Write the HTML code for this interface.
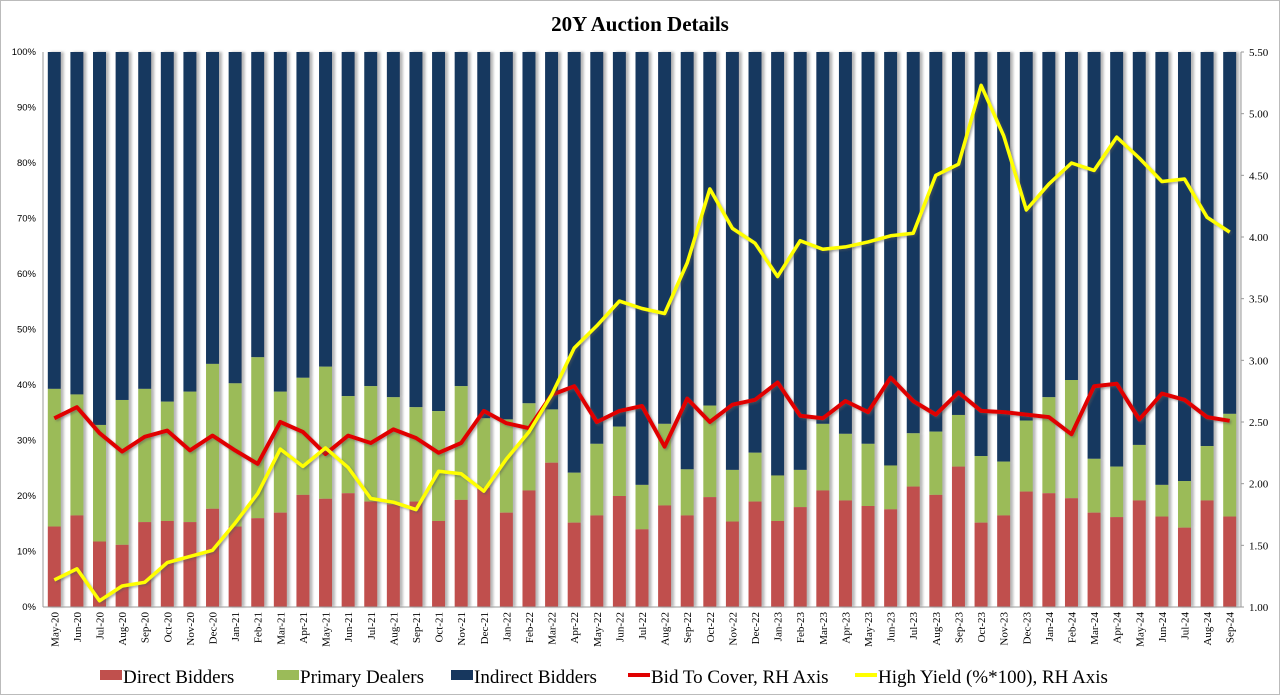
<!DOCTYPE html>
<html><head><meta charset="utf-8"><style>
html,body{margin:0;padding:0;background:#fff;}
svg{display:block;font-family:"Liberation Serif",serif;}
</style></head><body>
<svg id="chart" width="1280" height="695" viewBox="0 0 1280 695">
<defs>
<filter id="sh" x="-20%" y="-5%" width="160%" height="110%"><feDropShadow dx="3" dy="0" stdDeviation="1.2" flood-color="#888" flood-opacity="0.6"/></filter>
<filter id="lsh" x="-5%" y="-5%" width="110%" height="110%"><feDropShadow dx="1.5" dy="1.5" stdDeviation="1" flood-color="#555" flood-opacity="0.5"/></filter>
</defs>
<rect x="0.5" y="0.5" width="1279" height="694" fill="#fff" stroke="#bbb"/>
<text x="640" y="31" text-anchor="middle" font-size="21" font-weight="bold">20Y Auction  Details</text>
<g id="bars"></g>
<g id="axes"></g>
<g id="lines"></g>
<g id="legend">
<rect x="100" y="670" width="22" height="10" fill="#c0504d"/>
<text x="123" y="683" font-size="19">Direct Bidders</text>
<rect x="277" y="670" width="22" height="10" fill="#9bbb59"/>
<text x="300" y="683" font-size="19">Primary Dealers</text>
<rect x="451" y="670" width="22" height="10" fill="#17375e"/>
<text x="474" y="683" font-size="19">Indirect Bidders</text>
<line x1="628" y1="675" x2="650" y2="675" stroke="#e00000" stroke-width="4"/>
<text x="651" y="683" font-size="19">Bid To Cover, RH Axis</text>
<line x1="855" y1="675" x2="877" y2="675" stroke="#ffff00" stroke-width="4"/>
<text x="878" y="683" font-size="19">High Yield (%*100), RH Axis</text>
</g>
</svg>
<script>
const months=["May-20","Jun-20","Jul-20","Aug-20","Sep-20","Oct-20","Nov-20","Dec-20","Jan-21","Feb-21","Mar-21","Apr-21","May-21","Jun-21","Jul-21","Aug-21","Sep-21","Oct-21","Nov-21","Dec-21","Jan-22","Feb-22","Mar-22","Apr-22","May-22","Jun-22","Jul-22","Aug-22","Sep-22","Oct-22","Nov-22","Dec-22","Jan-23","Feb-23","Mar-23","Apr-23","May-23","Jun-23","Jul-23","Aug-23","Sep-23","Oct-23","Nov-23","Dec-23","Jan-24","Feb-24","Mar-24","Apr-24","May-24","Jun-24","Jul-24","Aug-24","Sep-24"];
const direct=[14.5,16.5,11.8,11.2,15.3,15.5,15.3,17.7,14.5,16,17,20.2,19.5,20.5,19,18.5,19,15.5,19.3,21.5,17,21,26,15.2,16.5,20,14,18.3,16.5,19.8,15.4,19,15.5,18,21,19.2,18.2,17.6,21.7,20.2,25.3,15.2,16.5,20.8,20.5,19.6,17,16.2,19.2,16.3,14.3,19.2,16.3];
const primary=[24.8,21.8,21,26.1,24,21.5,23.5,26.1,25.8,29,21.8,21.1,23.8,17.5,20.8,19.3,17,19.8,20.5,12.5,16.8,15.7,9.6,9,12.9,12.5,8,14.7,8.3,16.5,9.3,8.8,8.2,6.7,12,12,11.2,7.9,9.6,11.4,9.3,12,9.7,12.8,17.3,21.3,9.7,9.1,10,5.7,8.4,9.8,18.5];
const bidToCover=[2.53,2.62,2.41,2.26,2.38,2.43,2.27,2.39,2.27,2.16,2.50,2.42,2.24,2.39,2.33,2.44,2.37,2.25,2.33,2.59,2.49,2.45,2.72,2.79,2.50,2.59,2.63,2.30,2.69,2.50,2.64,2.68,2.82,2.55,2.53,2.67,2.58,2.86,2.67,2.56,2.74,2.59,2.58,2.56,2.54,2.40,2.79,2.81,2.52,2.73,2.68,2.54,2.51];
const highYield=[1.22,1.31,1.05,1.17,1.20,1.36,1.41,1.46,1.68,1.92,2.28,2.14,2.29,2.13,1.88,1.85,1.79,2.10,2.08,1.94,2.20,2.42,2.72,3.10,3.28,3.48,3.42,3.38,3.79,4.39,4.07,3.95,3.68,3.97,3.90,3.92,3.96,4.01,4.03,4.50,4.59,5.23,4.82,4.22,4.43,4.60,4.54,4.81,4.64,4.45,4.47,4.16,4.04];
const leftTicks=[0,10,20,30,40,50,60,70,80,90,100];
const rightTicks=[1.0,1.5,2.0,2.5,3.0,3.5,4.0,4.5,5.0,5.5];

const NS="http://www.w3.org/2000/svg";
const X0=43,X1=1241,Y0=607,Y1=52;
const n=months.length;
const step=(X1-X0)/n;
const xc=i=>X0+step*(i+0.5);
const yL=v=>Y0-(v/100)*(Y0-Y1);
const yR=v=>Y0-((v-1)/4.5)*(Y0-Y1);
const BW=13;
function mk(tag,attrs,parent){const e=document.createElementNS(NS,tag);for(const k in attrs)e.setAttribute(k,attrs[k]);parent.appendChild(e);return e;}
const gb=document.getElementById('bars'),ga=document.getElementById('axes'),gl=document.getElementById('lines');
for(let i=0;i<n;i++){
  const g=mk('g',{filter:'url(#sh)'},gb);
  
  
  const d=direct[i],p=primary[i];
  const r1=mk('rect',{x:xc(i)-BW/2,y:yL(100),width:BW,height:yL(d+p)-yL(100),fill:'#17375e'},g);
  
  
  const r2=mk('rect',{x:xc(i)-BW/2,y:yL(d+p),width:BW,height:yL(d)-yL(d+p),fill:'#9bbb59'},g);
  
  
  const r3=mk('rect',{x:xc(i)-BW/2,y:yL(d),width:BW,height:yL(0)-yL(d),fill:'#c0504d'},g);
  
  
  const t=mk('text',{x:0,y:0,'font-size':'11','text-anchor':'end',transform:`translate(${xc(i)+4},612) rotate(-90)`},ga);
  t.textContent=months[i];
  
  
}
const al=mk('line',{x1:X0,y1:Y1,x2:X0,y2:Y0,stroke:'#999'},ga);


const ar=mk('line',{x1:X1,y1:Y1,x2:X1,y2:Y0,stroke:'#999'},ga);


const ab=mk('line',{x1:X0,y1:Y0,x2:X1,y2:Y0,stroke:'#999'},ga);


leftTicks.forEach(v=>{
  const t=mk('text',{x:36,y:yL(v)+3,'font-size':'9.5','text-anchor':'end','font-family':'Liberation Sans, sans-serif'},ga);
  t.textContent=v+'%';
  
  
});
rightTicks.forEach(v=>{
  const l=mk('line',{x1:X1,x2:X1+3,y1:yR(v),y2:yR(v),stroke:'#999'},ga);
  
  
  const t=mk('text',{x:1249,y:yR(v)+4,'font-size':'11'},ga);
  t.textContent=v.toFixed(2);
  
  
});
function line(arr,color,w,name){
  const pts=arr.map((v,i)=>xc(i).toFixed(1)+','+yR(v).toFixed(1)).join(' ');
  const p=mk('polyline',{points:pts,fill:'none',stroke:color,'stroke-width':w,'stroke-linejoin':'round',filter:'url(#lsh)'},gl);
  
  
}
line(bidToCover,'#e00000',4,'bid-to-cover-line');
line(highYield,'#ffff00',3.5,'high-yield-line');
</script>
</body></html>
